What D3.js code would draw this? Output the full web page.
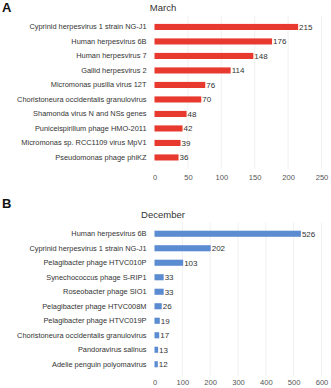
<!DOCTYPE html>
<html><head><meta charset="utf-8">
<script src="https://cdn.jsdelivr.net/npm/d3@7"></script>
<style>body{margin:0;background:#fff}svg{display:block;font-family:"Liberation Sans",Arial,sans-serif}</style>
</head><body><svg id="c" width="331" height="388"></svg>
<script>
const marchCategories = ["Cyprinid herpesvirus 1 strain NG-J1","Human herpesvirus 6B","Human herpesvirus 7","Gallid herpesvirus 2","Micromonas pusilla virus 12T","Choristoneura occidentalis granulovirus","Shamonda virus N and NSs genes","Puniceispirillum phage HMO-2011","Micromonas sp. RCC1109 virus MpV1","Pseudomonas phage phiKZ"];
const marchValues = [215,176,148,114,76,70,48,42,39,36];
const marchTicks = [0,50,100,150,200,250];
const decCategories = ["Human herpesvirus 6B","Cyprinid herpesvirus 1 strain NG-J1","Pelagibacter phage HTVC010P","Synechococcus phage S-RIP1","Roseobacter phage SIO1","Pelagibacter phage HTVC008M","Pelagibacter phage HTVC019P","Choristoneura occidentalis granulovirus","Pandoravirus salinus","Adelie penguin polyomavirus"];
const decValues = [526,202,103,33,33,26,19,17,13,12];
const decTicks = [0,100,200,300,400,500,600];

const svg = d3.select("#c");
function panel(opt){
  const g = svg.append("g");
  const x = d3.scaleLinear().domain([0, opt.ticks[opt.ticks.length-1]]).range([154.5, 321.5]);
  const y = d3.scaleBand().domain(opt.cats).range([opt.top, opt.top + 14.5*opt.cats.length]).paddingInner(0.58).paddingOuter(0.29);
  g.append("text").attr("x",2).attr("y",opt.letterY).attr("font-size",13).attr("font-weight","bold").attr("fill","#111").text(opt.letter);
  g.append("text").attr("x",163).attr("y",opt.titleY).attr("text-anchor","middle").attr("font-size",9.5).attr("fill","#333").text(opt.title);
  g.selectAll("line.grid").data(opt.ticks.slice(1)).join("line")
    .attr("x1",d=>x(d)).attr("x2",d=>x(d)).attr("y1",opt.top-4).attr("y2",opt.top+14.5*opt.cats.length+4)
    .attr("stroke","#f0f0f0").attr("stroke-width",1);
  g.selectAll("rect").data(opt.vals).join("rect")
    .attr("x",x(0)).attr("y",(d,i)=>y(opt.cats[i])).attr("width",d=>x(d)-x(0)).attr("height",y.bandwidth())
    .attr("fill",opt.color);
  g.selectAll("text.v").data(opt.vals).join("text").attr("class","v")
    .attr("x",d=>x(d)+1).attr("y",(d,i)=>y(opt.cats[i])+y.bandwidth()/2).attr("dy","0.35em")
    .attr("font-size",8).attr("fill","#333").text(d=>d);
  const ax = d3.axisLeft(y).tickSize(0).tickPadding(8);
  const ag = g.append("g").attr("transform",`translate(${x(0)},0)`).call(ax);
  ag.select(".domain").remove();
  ag.selectAll("text").attr("font-size",7.4).attr("fill","#333").attr("font-family","Liberation Sans, Arial, sans-serif");
  const bx = d3.axisBottom(x).tickValues(opt.ticks).tickSize(0).tickPadding(0);
  const bg = g.append("g").attr("transform",`translate(0,${opt.tickY})`).call(bx);
  bg.select(".domain").remove();
  bg.selectAll("text").attr("font-size",7.6).attr("fill","#555").attr("dy","0").attr("font-family","Liberation Sans, Arial, sans-serif");
}
panel({cats:marchCategories, vals:marchValues, ticks:marchTicks, top:19.7, color:"#e8392e", letter:"A", letterY:12, title:"March", titleY:11, tickY:180});
panel({cats:decCategories, vals:decValues, ticks:decTicks, top:226.5, color:"#5b8bd0", letter:"B", letterY:208, title:"December", titleY:218, tickY:385});
</script></body></html>
